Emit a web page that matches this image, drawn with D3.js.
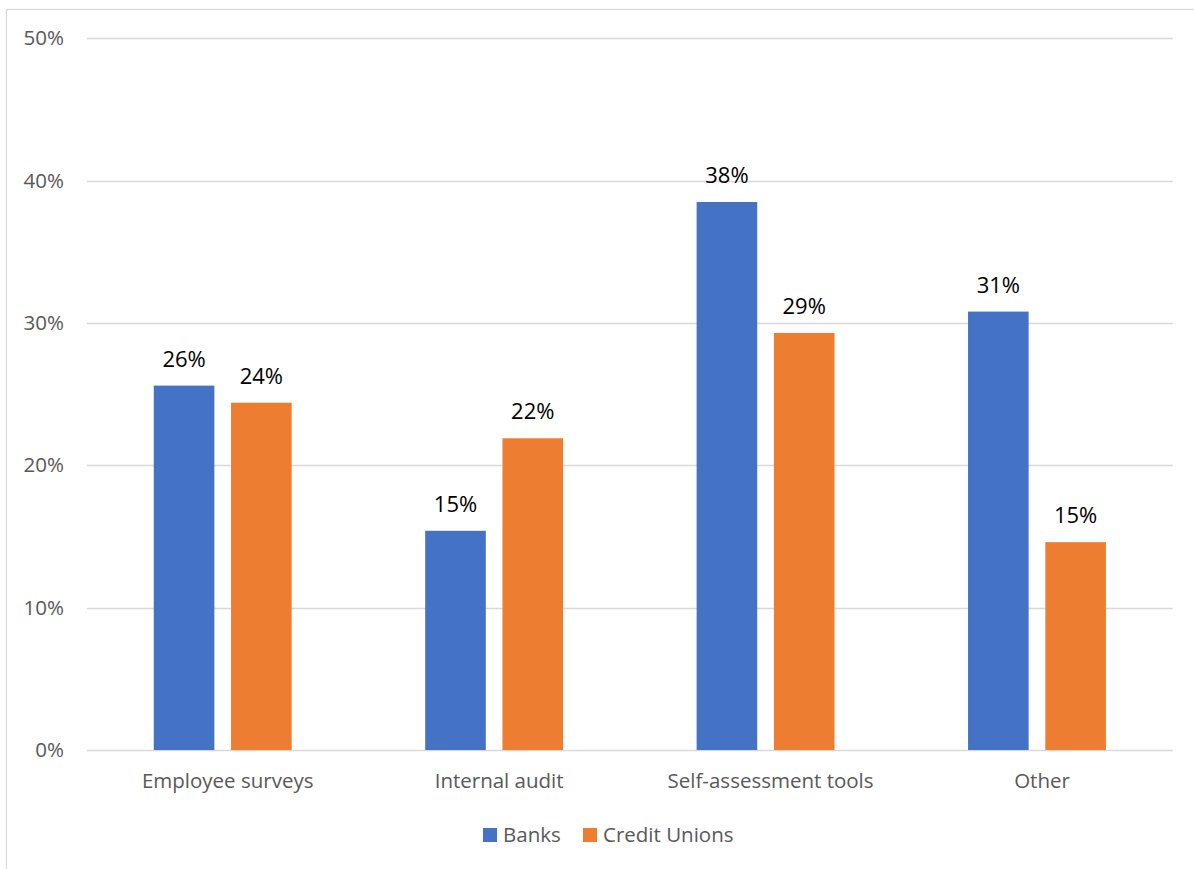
<!DOCTYPE html>
<html>
<head>
<meta charset="utf-8">
<script src="https://cdn.jsdelivr.net/npm/d3@7"></script>
<style>
  html, body { margin: 0; padding: 0; background: #fff; }
  svg { display: block; }
</style>
</head>
<body>
<svg id="chart" width="1194" height="869"></svg>
<script>
const categories = ["Employee surveys", "Internal audit", "Self-assessment tools", "Other"];
const seriesNames = ["Banks", "Credit Unions"];
const banks = [25.6, 15.4, 38.5, 30.8];
const creditUnions = [24.4, 21.9, 29.3, 14.6];
const dataLabelsBanks = ["26%", "15%", "38%", "31%"];
const dataLabelsCU = ["24%", "22%", "29%", "15%"];
const yTicks = [0, 10, 20, 30, 40, 50];
const colors = ["#4472C4", "#ED7D31"];

const svg = d3.select("#chart");
const font = "'Open Sans', sans-serif";

// outer border
svg.append("rect").attr("x", 6.5).attr("y", 9.5).attr("width", 1200).attr("height", 900)
  .attr("fill", "none").attr("stroke", "#d9d9d9").attr("stroke-width", 1.2);

const plotLeft = 87, plotRight = 1172.7, plotTop = 38.3, plotBottom = 750;
const y = d3.scaleLinear().domain([0, 50]).range([plotBottom, plotTop]);
const x0 = d3.scaleBand().domain(categories).range([plotLeft, plotRight]).padding(0);
const x1 = d3.scaleBand().domain(seriesNames).range([0, x0.bandwidth()])
  .paddingInner(0.216).paddingOuter(0.864);

// gridlines
svg.append("g").selectAll("line").data(yTicks).join("line")
  .attr("x1", plotLeft).attr("x2", plotRight)
  .attr("y1", d => Math.round(y(d)) + 0.5).attr("y2", d => Math.round(y(d)) + 0.5)
  .attr("stroke", "#d9d9d9").attr("stroke-width", 1.3);

// y tick labels
svg.append("g").selectAll("text").data(yTicks).join("text")
  .attr("x", 64).attr("y", d => y(d) + 7)
  .attr("text-anchor", "end")
  .attr("font-family", font).attr("font-size", 20.5).attr("fill", "#595959")
  .text(d => d + "%");

const rows = categories.map((c, i) => ({
  cat: c,
  vals: [
    { s: seriesNames[0], v: banks[i], lab: dataLabelsBanks[i], col: colors[0] },
    { s: seriesNames[1], v: creditUnions[i], lab: dataLabelsCU[i], col: colors[1] }
  ]
}));

const groups = svg.append("g").selectAll("g").data(rows).join("g")
  .attr("transform", d => `translate(${x0(d.cat)},0)`);

groups.selectAll("rect").data(d => d.vals).join("rect")
  .attr("x", d => x1(d.s)).attr("width", x1.bandwidth())
  .attr("y", d => y(d.v)).attr("height", d => y(0) - y(d.v))
  .attr("fill", d => d.col);

groups.selectAll("text").data(d => d.vals).join("text")
  .attr("x", d => x1(d.s) + x1.bandwidth() / 2)
  .attr("y", d => y(d.v) - 19)
  .attr("text-anchor", "middle")
  .attr("font-family", font).attr("font-size", 22).attr("fill", "#000")
  .text(d => d.lab);

// category labels
svg.append("g").selectAll("text").data(categories).join("text")
  .attr("x", d => x0(d) + x0.bandwidth() / 2 + 5).attr("y", 788)
  .attr("text-anchor", "middle")
  .attr("font-family", font).attr("font-size", 20.5).attr("fill", "#595959")
  .text(d => d);

// legend
const legendX = [483, 583];
const lg = svg.append("g").selectAll("g").data(seriesNames).join("g")
  .attr("transform", (d, i) => `translate(${legendX[i]},828)`);
lg.append("rect").attr("width", 14).attr("height", 14).attr("fill", (d, i) => colors[i]);
lg.append("text").attr("x", 20).attr("y", 14)
  .attr("font-family", font).attr("font-size", 20.5).attr("fill", "#595959")
  .text(d => d);
</script>
</body>
</html>
